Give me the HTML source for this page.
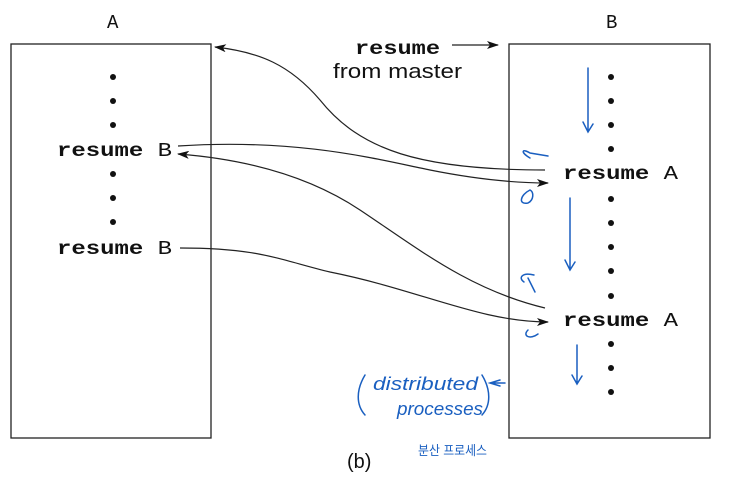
<!DOCTYPE html>
<html><head><meta charset="utf-8"><style>
html,body{margin:0;padding:0;background:#fff;width:737px;height:486px;overflow:hidden}
.m{font-family:"Liberation Mono","DejaVu Sans Mono","Courier New",monospace}
</style></head><body>
<svg width="737" height="486" viewBox="0 0 737 486" xmlns="http://www.w3.org/2000/svg">
<defs><marker id="ah" markerWidth="12" markerHeight="8" refX="11" refY="4" orient="auto" markerUnits="userSpaceOnUse"><path d="M0,0 L12,4 L0,8 L3,4 Z" fill="#111"/></marker></defs>
<g fill="none" stroke="#222" stroke-width="1.3">
<rect x="11" y="44" width="200" height="394"/>
<rect x="509" y="44" width="201" height="394"/>
</g>
<g class="m" font-size="19" fill="#111">
<text x="107" y="28">A</text>
<text x="606" y="28">B</text>
<text x="57" y="156" textLength="115" lengthAdjust="spacingAndGlyphs"><tspan font-weight="bold">resume</tspan> B</text>
<text x="57" y="254" textLength="115" lengthAdjust="spacingAndGlyphs"><tspan font-weight="bold">resume</tspan> B</text>
<text x="563" y="179" textLength="115" lengthAdjust="spacingAndGlyphs"><tspan font-weight="bold">resume</tspan> A</text>
<text x="563" y="326" textLength="115" lengthAdjust="spacingAndGlyphs"><tspan font-weight="bold">resume</tspan> A</text>
<text x="355" y="54" font-weight="bold" textLength="85" lengthAdjust="spacingAndGlyphs">resume</text>
</g>
<text x="333" y="78" font-family="'Liberation Sans', sans-serif" font-size="20" fill="#111" textLength="129" lengthAdjust="spacingAndGlyphs">from master</text>
<text x="347" y="468" font-family="'Liberation Sans', sans-serif" font-size="20" fill="#111">(b)</text>
<g fill="#111">
<circle cx="113" cy="77" r="3"/><circle cx="113" cy="101" r="3"/><circle cx="113" cy="125" r="3"/>
<circle cx="113" cy="174" r="3"/><circle cx="113" cy="198" r="3"/><circle cx="113" cy="222" r="3"/>
<circle cx="611" cy="77" r="3"/><circle cx="611" cy="101" r="3"/><circle cx="611" cy="125" r="3"/><circle cx="611" cy="149" r="3"/>
<circle cx="611" cy="199" r="3"/><circle cx="611" cy="223" r="3"/><circle cx="611" cy="247" r="3"/><circle cx="611" cy="271" r="3"/><circle cx="611" cy="296" r="3"/>
<circle cx="611" cy="344" r="3"/><circle cx="611" cy="368" r="3"/><circle cx="611" cy="392" r="3"/>
</g>
<g fill="none" stroke="#222" stroke-width="1.2" marker-end="url(#ah)">
<path d="M452,45 L498,45"/>
<path d="M545,170 C420,170 360,150 320,100 C290,65 260,52 215,47"/>
<path d="M178,146 C300,138 380,160 430,170 C480,180 520,183 548,183"/>
<path d="M545,308 C470,290 420,250 360,210 C300,170 230,158 178,154"/>
<path d="M180,248 C260,248 280,260 330,272 C420,290 480,322 548,322"/>
</g>
<g fill="none" stroke="#1a5fc0" stroke-width="1.5" stroke-linecap="round">
<path d="M588,68 L588,130 M583,122 L588,132 L593,124"/>
<path d="M570,198 L570,268 M565,260 L570,270 L575,262"/>
<path d="M577,345 L577,382 M572,375 L577,384 L582,376"/>
<path d="M530,158 C520,152 522,148 530,153 L548,156"/>
<path d="M530,190 C520,195 518,205 528,203 C534,200 534,192 530,190"/>
<path d="M524,282 C518,278 522,272 534,275 M528,278 L535,292"/>
<path d="M528,330 C522,336 530,340 538,334"/>
<path d="M365,375 C356,390 356,405 365,415"/>
<path d="M482,375 C491,390 491,405 482,415"/>
<path d="M500,380 L490,383 L500,386 M492,383 L505,383"/>
</g>
<text x="373" y="390" font-family="'Liberation Sans', sans-serif" font-size="18" fill="#1a5fc0" font-style="italic" textLength="105" lengthAdjust="spacingAndGlyphs">distributed</text>
<text x="397" y="415" font-family="'Liberation Sans', sans-serif" font-size="18" fill="#1a5fc0" font-style="italic" textLength="86" lengthAdjust="spacingAndGlyphs">processes</text>
<text x="418" y="455" font-family="'Liberation Sans', 'Noto Sans CJK KR', sans-serif" font-size="13" fill="#1a5fc0" textLength="69" lengthAdjust="spacingAndGlyphs">분산 프로세스</text>
</svg>
</body></html>
